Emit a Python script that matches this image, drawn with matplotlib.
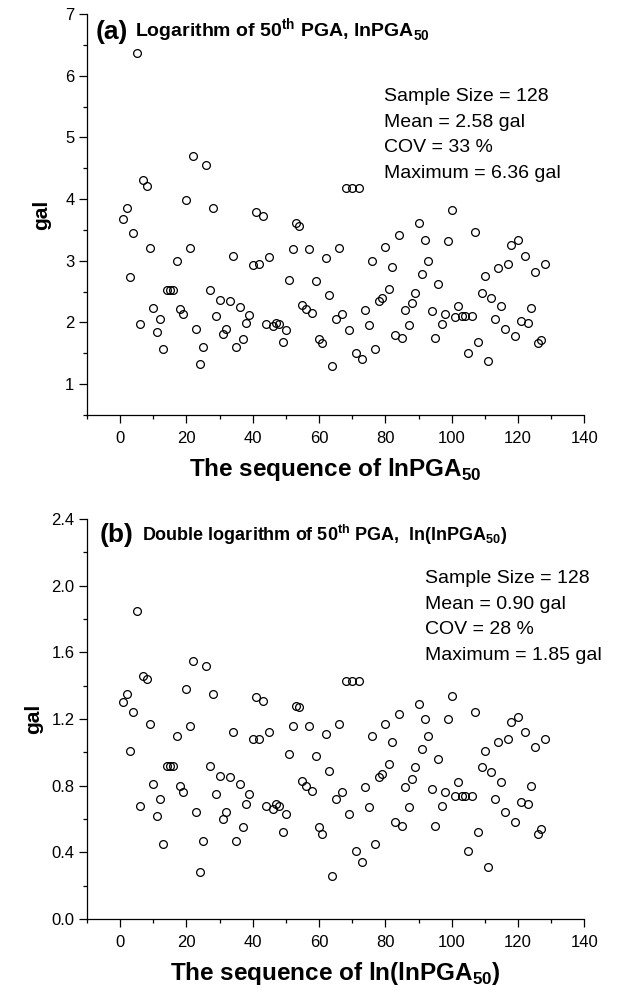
import matplotlib
matplotlib.use("Agg")
import matplotlib.pyplot as plt
from matplotlib.ticker import MultipleLocator

plt.rcParams['font.family'] = ['Liberation Sans', 'DejaVu Sans']
plt.rcParams['mathtext.fontset'] = 'custom'
plt.rcParams['mathtext.rm'] = 'Liberation Sans'
plt.rcParams['mathtext.bf'] = 'Liberation Sans:bold'

# sequence numbers 1..128
seq = list(range(1, 129))

# (a) lnPGA50 values
ln_pga = [3.68, 3.86, 2.74, 3.45, 6.36, 1.98, 4.31, 4.22, 3.21, 2.24,
          1.85, 2.05, 1.57, 2.52, 2.52, 2.52, 2.99, 2.22, 2.14, 3.98,
          3.20, 4.70, 1.89, 1.32, 1.60, 4.55, 2.52, 3.86, 2.11, 2.37,
          1.82, 1.90, 2.35, 3.07, 1.60, 2.25, 1.73, 1.99, 2.12, 2.93,
          3.79, 2.94, 3.72, 1.98, 3.06, 1.94, 1.99, 1.97, 1.68, 1.87,
          2.69, 3.19, 3.61, 3.57, 2.29, 2.22, 3.19, 2.16, 2.67, 1.73,
          1.67, 3.04, 2.44, 1.30, 2.05, 3.21, 2.14, 4.18, 1.87, 4.18,
          1.51, 4.18, 1.40, 2.21, 1.96, 2.99, 1.57, 2.35, 2.39, 3.22,
          2.54, 2.90, 1.79, 3.41, 1.75, 2.20, 1.96, 2.31, 2.48, 3.62,
          2.78, 3.33, 2.99, 2.19, 1.75, 2.62, 1.98, 2.13, 3.32, 3.82,
          2.09, 2.27, 2.10, 2.10, 1.50, 2.10, 3.46, 1.68, 2.48, 2.75,
          1.37, 2.40, 2.05, 2.88, 2.27, 1.89, 2.95, 3.25, 1.78, 3.34,
          2.02, 3.07, 1.99, 2.23, 2.81, 1.66, 1.71, 2.95]

# (b) ln(lnPGA50) values
lnln_pga = [1.30, 1.35, 1.01, 1.24, 1.85, 0.68, 1.46, 1.44, 1.17, 0.81,
            0.62, 0.72, 0.45, 0.92, 0.92, 0.92, 1.10, 0.80, 0.76, 1.38,
            1.16, 1.55, 0.64, 0.28, 0.47, 1.52, 0.92, 1.35, 0.75, 0.86,
            0.60, 0.64, 0.85, 1.12, 0.47, 0.81, 0.55, 0.69, 0.75, 1.08,
            1.33, 1.08, 1.31, 0.68, 1.12, 0.66, 0.69, 0.68, 0.52, 0.63,
            0.99, 1.16, 1.28, 1.27, 0.83, 0.80, 1.16, 0.77, 0.98, 0.55,
            0.51, 1.11, 0.89, 0.26, 0.72, 1.17, 0.76, 1.43, 0.63, 1.43,
            0.41, 1.43, 0.34, 0.79, 0.67, 1.10, 0.45, 0.85, 0.87, 1.17,
            0.93, 1.06, 0.58, 1.23, 0.56, 0.79, 0.67, 0.84, 0.91, 1.29,
            1.02, 1.20, 1.10, 0.78, 0.56, 0.96, 0.68, 0.76, 1.20, 1.34,
            0.74, 0.82, 0.74, 0.74, 0.41, 0.74, 1.24, 0.52, 0.91, 1.01,
            0.31, 0.88, 0.72, 1.06, 0.82, 0.64, 1.08, 1.18, 0.58, 1.21,
            0.70, 1.12, 0.69, 0.80, 1.03, 0.51, 0.54, 1.08]

yticks_a = [1, 2, 3, 4, 5, 6, 7]
yticks_b = [0.0, 0.4, 0.8, 1.2, 1.6, 2.0, 2.4]
ylabels_b = ['0.0', '0.4', '0.8', '1.2', '1.6', '2.0', '2.4']

stats_a = ["Sample Size = 128", "Mean = 2.58 gal", "COV = 33 %", "Maximum = 6.36 gal"]
stats_b = ["Sample Size = 128", "Mean = 0.90 gal", "COV = 28 %", "Maximum = 1.85 gal"]

fig = plt.figure(figsize=(6.17, 9.94), dpi=100)
ax1 = fig.add_axes([0.141, 0.5825, 0.806, 0.4034])
ax2 = fig.add_axes([0.141, 0.0755, 0.806, 0.4024])


def style(ax):
    for s in ['top', 'right']:
        ax.spines[s].set_visible(False)
    for s in ['left', 'bottom']:
        ax.spines[s].set_linewidth(0.9)
    ax.set_xlim(-10, 140)
    ax.xaxis.set_major_locator(MultipleLocator(20))
    ax.xaxis.set_minor_locator(MultipleLocator(10))
    ax.tick_params(which='major', direction='out', length=5.5, width=0.9, labelsize=12)
    ax.tick_params(which='minor', direction='out', length=3, width=0.9)
    ax.tick_params(axis='x', pad=6)


ax1.plot(seq, ln_pga, 'o', mfc='none', mec='black', ms=5.6, mew=0.9)
style(ax1)
ax1.set_ylim(0.5, 7)
ax1.yaxis.set_minor_locator(MultipleLocator(0.5))
ax1.set_yticks(yticks_a)
ax1.set_ylabel('gal', fontsize=15, fontweight='bold', labelpad=10)
ax1.set_xlabel(r'The sequence of lnPGA$_{\mathbf{50}}$', fontsize=17.5, fontweight='bold', labelpad=7)
ax1.text(0.018, 0.938, '(a)', transform=ax1.transAxes, fontsize=19, fontweight='bold')
ax1.text(0.097, 0.942, r'Logarithm of 50$^{\mathbf{th}}$ PGA, lnPGA$_{\mathbf{50}}$',
         transform=ax1.transAxes, fontsize=14, fontweight='bold')
ax1.text(0.597, 0.815, '\n'.join(stats_a), transform=ax1.transAxes, fontsize=14,
         va='top', linespacing=1.65)

ax2.plot(seq, lnln_pga, 'o', mfc='none', mec='black', ms=5.6, mew=0.9)
style(ax2)
ax2.set_ylim(0, 2.4)
ax2.yaxis.set_minor_locator(MultipleLocator(0.2))
ax2.set_yticks(yticks_b)
ax2.set_yticklabels(ylabels_b)
ax2.set_ylabel('gal', fontsize=15, fontweight='bold', labelpad=6)
ax2.set_xlabel(r'The sequence of ln(lnPGA$_{\mathbf{50}}$)', fontsize=17.5, fontweight='bold', labelpad=7)
ax2.text(0.026, 0.942, '(b)', transform=ax2.transAxes, fontsize=19, fontweight='bold')
ax2.text(0.11, 0.945, r'Double logarithm of 50$^{\mathbf{th}}$ PGA,  ln(lnPGA$_{\mathbf{50}}$)',
         transform=ax2.transAxes, fontsize=13, fontweight='bold')
ax2.text(0.68, 0.872, '\n'.join(stats_b), transform=ax2.transAxes, fontsize=14,
         va='top', linespacing=1.65)

fig.savefig('out.png', dpi=100)
